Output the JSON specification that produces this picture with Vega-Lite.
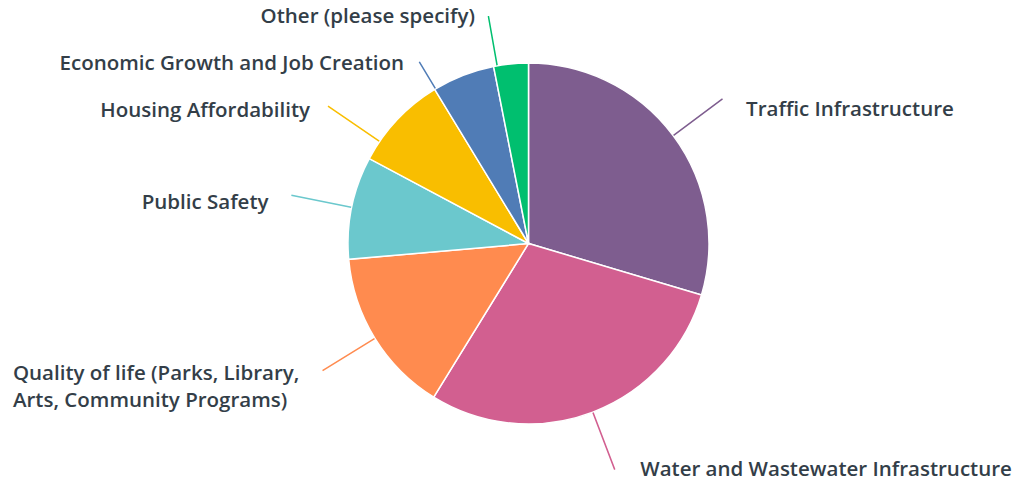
{
  "$schema": "https://vega.github.io/schema/vega-lite/v6.json",
  "width": 969,
  "height": 477,
  "autosize": "none",
  "padding": {"left": 44, "top": 5, "right": 0, "bottom": 0},
  "background": "#ffffff",
  "config": {"view": {"stroke": null}, "text": {"font": "Open Sans", "fontSize": 20.5, "fontWeight": 600, "color": "#333e48"}},
  "data": {
    "values": [
      {"rank": 1, "category": "Traffic Infrastructure", "label": "Traffic Infrastructure", "share": 29.6},
      {"rank": 2, "category": "Water and Wastewater Infrastructure", "label": "Water and Wastewater Infrastructure", "share": 29.2},
      {"rank": 3, "category": "Quality of life (Parks, Library, Arts, Community Programs)", "label": "Quality of life (Parks, Library,\nArts, Community Programs)", "share": 14.8},
      {"rank": 4, "category": "Public Safety", "label": "Public Safety", "share": 9.2},
      {"rank": 5, "category": "Housing Affordability", "label": "Housing Affordability", "share": 8.5},
      {"rank": 6, "category": "Economic Growth and Job Creation", "label": "Economic Growth and Job Creation", "share": 5.6},
      {"rank": 7, "category": "Other (please specify)", "label": "Other (please specify)", "share": 3.1}
    ]
  },
  "encoding": {
    "theta": {"field": "share", "type": "quantitative", "stack": true},
    "order": {"field": "rank", "type": "quantitative"}
  },
  "layer": [
    {
      "mark": {"type": "arc", "outerRadius": 180.5, "stroke": "#ffffff", "strokeWidth": 1.5},
      "encoding": {
        "color": {
          "field": "category", "type": "nominal", "legend": null,
          "scale": {
            "domain": ["Traffic Infrastructure", "Water and Wastewater Infrastructure", "Quality of life (Parks, Library, Arts, Community Programs)", "Public Safety", "Housing Affordability", "Economic Growth and Job Creation", "Other (please specify)"],
            "range": ["#7e5d8f", "#d25f90", "#ff8b4f", "#6bc8cd", "#f9be00", "#507cb6", "#00bf6f"]
          }
        }
      }
    },
    {
      "mark": {"type": "arc", "innerRadius": 181, "outerRadius": 242, "padAngle": 3, "filled": false, "strokeWidth": 1.5},
      "encoding": {
        "color": {"field": "category", "type": "nominal", "legend": null},
        "strokeOpacity": {"condition": {"test": "indexof(['Traffic Infrastructure','Water and Wastewater Infrastructure','Quality of life (Parks, Library, Arts, Community Programs)','Public Safety'], datum.category) >= 0", "value": 1}, "value": 0}
      }
    },
    {
      "mark": {"type": "arc", "innerRadius": 181, "outerRadius": 243, "padAngle": 3, "filled": false, "strokeWidth": 1.5, "thetaOffset": -0.1567, "theta2Offset": -0.1567},
      "encoding": {
        "color": {"field": "category", "type": "nominal", "legend": null},
        "strokeOpacity": {"condition": {"test": "datum.category === 'Housing Affordability'", "value": 1}, "value": 0}
      }
    },
    {
      "mark": {"type": "arc", "innerRadius": 181, "outerRadius": 212, "padAngle": 3, "filled": false, "strokeWidth": 1.5, "thetaOffset": -0.1703, "theta2Offset": -0.1703},
      "encoding": {
        "color": {"field": "category", "type": "nominal", "legend": null},
        "strokeOpacity": {"condition": {"test": "datum.category === 'Economic Growth and Job Creation'", "value": 1}, "value": 0}
      }
    },
    {
      "mark": {"type": "arc", "innerRadius": 181, "outerRadius": 231, "padAngle": 3, "filled": false, "strokeWidth": 1.5, "thetaOffset": -0.0771, "theta2Offset": -0.0771},
      "encoding": {
        "color": {"field": "category", "type": "nominal", "legend": null},
        "strokeOpacity": {"condition": {"test": "datum.category === 'Other (please specify)'", "value": 1}, "value": 0}
      }
    },
    {
      "mark": {"type": "text", "radius": 242, "dx": 23.6, "dy": 17.3, "align": "left", "baseline": "alphabetic"},
      "encoding": {"text": {"condition": {"test": "datum.category === 'Traffic Infrastructure'", "field": "label"}, "value": ""}}
    },
    {
      "mark": {"type": "text", "radius": 242, "dx": 25.5, "dy": 5.9, "align": "left", "baseline": "alphabetic"},
      "encoding": {"text": {"condition": {"test": "datum.category === 'Water and Wastewater Infrastructure'", "field": "label"}, "value": ""}}
    },
    {
      "mark": {"type": "text", "radius": 242, "dx": -309.6, "dy": 9.4, "align": "left", "baseline": "alphabetic", "lineBreak": "\n", "lineHeight": 27},
      "encoding": {"text": {"condition": {"test": "datum.category === 'Quality of life (Parks, Library, Arts, Community Programs)'", "field": "label"}, "value": ""}}
    },
    {
      "mark": {"type": "text", "radius": 242, "dx": -22.9, "dy": 14.1, "align": "right", "baseline": "alphabetic"},
      "encoding": {"text": {"condition": {"test": "datum.category === 'Public Safety'", "field": "label"}, "value": ""}}
    },
    {
      "mark": {"type": "text", "radius": 242, "dx": -42.5, "dy": 39.4, "align": "right", "baseline": "alphabetic"},
      "encoding": {"text": {"condition": {"test": "datum.category === 'Housing Affordability'", "field": "label"}, "value": ""}}
    },
    {
      "mark": {"type": "text", "radius": 242, "dx": -36.8, "dy": 51.6, "align": "right", "baseline": "alphabetic"},
      "encoding": {"text": {"condition": {"test": "datum.category === 'Economic Growth and Job Creation'", "field": "label"}, "value": ""}}
    },
    {
      "mark": {"type": "text", "radius": 242, "dx": -30, "dy": 20.1, "align": "right", "baseline": "alphabetic"},
      "encoding": {"text": {"condition": {"test": "datum.category === 'Other (please specify)'", "field": "label"}, "value": ""}}
    }
  ]
}
